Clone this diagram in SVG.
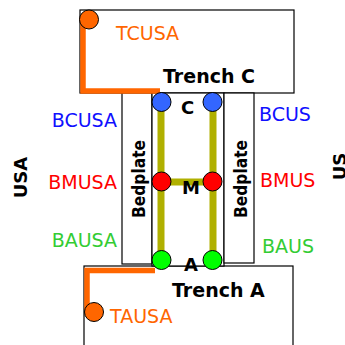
<svg xmlns="http://www.w3.org/2000/svg" width="345" height="345" viewBox="0 0 345 345">
<style>
.box{fill:#fff;stroke:#000;stroke-width:1.2}
.lbl{font-family:"DejaVu Sans",Verdana,sans-serif;font-size:19px}
.bold{font-family:"DejaVu Sans",Verdana,sans-serif;font-weight:bold}
.cable{fill:none;stroke:#ff6600;stroke-width:5.5;stroke-linejoin:miter}
.bar{fill:none;stroke:#b0b000;stroke-width:7}
.pt{stroke:#000;stroke-width:1}
.blue{fill:#1010ff}.red{fill:#ff0000}.green{fill:#33cc33}.orange{fill:#ff6600}
</style>
<rect width="345" height="345" fill="#fff"/>
<g id="trenchC">
<rect class="box" x="80" y="10" width="214" height="83"/>
<text class="bold" x="163" y="83" font-size="19">Trench C</text>
</g>
<g id="trenchA">
<rect class="box" x="84" y="266" width="209" height="90"/>
<text class="bold" x="172" y="297" font-size="19">Trench A</text>
</g>
<g id="bedplateL">
<rect class="box" x="122" y="93" width="30" height="171"/>
<text class="bold" font-size="17" text-anchor="middle" textLength="78" lengthAdjust="spacingAndGlyphs" transform="translate(145,179) rotate(-90)">Bedplate</text>
</g>
<g id="middle">
<rect class="box" x="152" y="93" width="72" height="173"/>
</g>
<g id="bedplateR">
<rect class="box" x="224" y="93" width="30" height="170"/>
<text class="bold" font-size="17" text-anchor="middle" textLength="78" lengthAdjust="spacingAndGlyphs" transform="translate(246.5,179) rotate(-90)">Bedplate</text>
</g>
<g id="connectors">
<path class="cable" d="M83,20 V91 H160"/>
<path class="cable" d="M155,270.5 H87 V310"/>
<path class="bar" d="M161,102 V260 M213,102 V260 M161,182 H213"/>
</g>
<g id="TCUSA"><circle class="pt orange" cx="89" cy="19.5" r="9.5"/><text class="lbl orange" x="116" y="39.5">TCUSA</text></g>
<g id="TAUSA"><circle class="pt orange" cx="94" cy="312" r="9.5"/><text class="lbl orange" x="110" y="323">TAUSA</text></g>
<g id="BCUSA"><circle class="pt" fill="#3366ff" cx="161.5" cy="102" r="9.5"/><text class="lbl blue" x="117" y="126.7" text-anchor="end">BCUSA</text></g>
<g id="BCUS"><circle class="pt" fill="#3366ff" cx="212.5" cy="102" r="9.5"/><text class="lbl blue" x="259" y="121">BCUS</text></g>
<g id="BMUSA"><circle class="pt" fill="#ff0000" cx="161.5" cy="181.5" r="9.5"/><text class="lbl red" x="117" y="189" text-anchor="end">BMUSA</text></g>
<g id="BMUS"><circle class="pt" fill="#ff0000" cx="212.5" cy="181.5" r="9.5"/><text class="lbl red" x="260" y="187">BMUS</text></g>
<g id="BAUSA"><circle class="pt" fill="#00ff00" cx="161.5" cy="260" r="9.5"/><text class="lbl green" x="117" y="247" text-anchor="end">BAUSA</text></g>
<g id="BAUS"><circle class="pt" fill="#00ff00" cx="212.5" cy="260" r="9.5"/><text class="lbl green" x="262" y="253">BAUS</text></g>
<g id="labels">
<text class="bold" x="181" y="114" font-size="18">C</text>
<text class="bold" x="182" y="194" font-size="18">M</text>
<text class="bold" x="184" y="270.5" font-size="18">A</text>
<text class="bold" font-size="18" text-anchor="middle" transform="translate(27,177.5) rotate(-90)">USA</text>
<text class="bold" font-size="18" text-anchor="middle" transform="translate(346,166.5) rotate(-90)">US</text>
</g>
</svg>
